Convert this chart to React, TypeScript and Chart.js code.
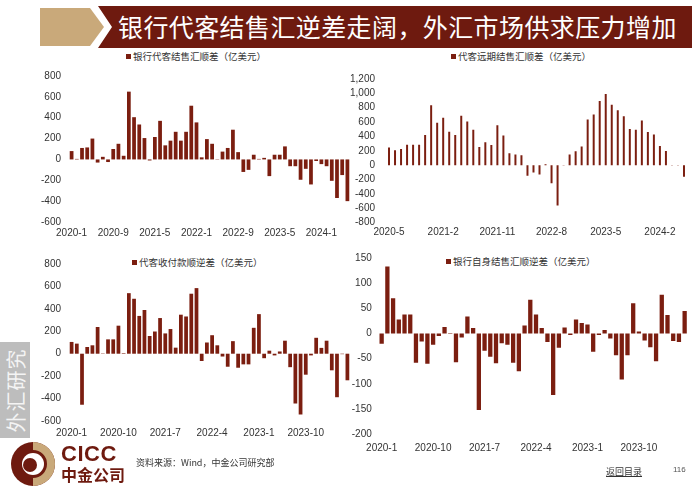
import React, { useEffect, useRef } from 'react';
import { Chart, registerables } from 'chart.js';

Chart.register(...registerables);

const BAR_COLOR = '#7B1E10';
const DARK_RED = '#6E1A0F';
const TAN = '#C9A97A';
const CJK = '"Noto Sans CJK SC", "Noto Sans", sans-serif';
const NUM = '"Liberation Sans", Arial, sans-serif';

function monthLabels(year: number, month: number, count: number): string[] {
  const out: string[] = [];
  let y = year;
  let m = month;
  for (let i = 0; i < count; i++) {
    out.push(`${y}-${m}`);
    m += 1;
    if (m > 12) { m = 1; y += 1; }
  }
  return out;
}

// Chart 1: 银行代客结售汇顺差 (2020-1 .. 2024-6)
const agentLabels = monthLabels(2020, 1, 54);
const agentSeries = '银行代客结售汇顺差（亿美元）';
const agentValues = [
  80, 5, 110, 115, 200, -30, 25, -25, 100, 150,
  35, 650, 405, 335, 205, -10, 215, 370, 135, 180,
  265, 180, 265, 515, 355, 20, 195, 150, 3, 75,
  110, 285, 70, -120, -100, 45, 5, 15, -160, 45,
  45, 125, -65, -65, -195, -90, -240, -15, -45, -65,
  -205, -370, -150, -400,
];

// Chart 2: 代客远期结售汇顺差 (2020-5 .. 2024-6)
const forwardLabels = monthLabels(2020, 5, 50);
const forwardSeries = '代客远期结售汇顺差（亿美元）';
const forwardValues = [
  245, 210, 225, 285, 285, 285, 420, 835, 590, 660,
  465, 420, 690, 610, 495, 255, 320, 280, 555, 415,
  165, 150, 140, -145, -100, -130, 12, -250, -560, -5,
  150, 195, 262, 638, 705, 895, 990, 842, 765, 682,
  505, 495, 622, 462, 426, 266, 197, -4, -4, -160,
];

// Chart 3: 代客收付款顺逆差 (2020-1 .. 2024-6)
const payLabels = monthLabels(2020, 1, 54);
const paySeries = '代客收付款顺逆差（亿美元）';
const payValues = [
  105, 90, -455, 60, 75, 238, 3, 128, 128, 250,
  5, 540, 490, 337, 390, 158, 198, 318, 181, 220,
  54, 348, 332, 535, 585, -65, 100, 165, 75, -25,
  -116, 112, -125, -95, -95, 231, 353, -40, 27, -15,
  20, 116, -120, -444, -542, -187, -15, 142, 52, 116,
  -148, -388, -4, -237,
];

// Chart 4: 银行自身结售汇顺逆差 (2020-1 .. 2024-6)
const bankLabels = monthLabels(2020, 1, 54);
const bankSeries = '银行自身结售汇顺逆差（亿美元）';
const bankValues = [
  -20, 133, 70, 28, 38, 38, -58, -16, -60, -22,
  -5, 13, 1, -57, -8, 34, 11, -152, -34, -46,
  -59, -19, -22, -58, -75, 16, 67, 38, 11, -17,
  -122, -28, 12, -3, 28, 21, 18, -36, -3, 7,
  -10, -43, -91, -43, 60, 4, -14, -27, -55, 77,
  37, -15, -17, 45,
];

type PanelProps = {
  left: number; top: number; width: number; height: number;
  labels: string[]; values: number[]; series: string;
  yMin: number; yMax: number; yStep: number; every: number; barPct: number;
  padTop: number; padRight: number; yW: number; xH: number; yPad: number; xPad: number;
};

function BarPanel(p: PanelProps) {
  const ref = useRef<HTMLCanvasElement>(null);
  useEffect(() => {
    if (!ref.current) return;
    const chart = new Chart(ref.current, {
      type: 'bar',
      data: {
        labels: p.labels,
        datasets: [{
          label: p.series,
          data: p.values,
          backgroundColor: BAR_COLOR,
          borderWidth: 0,
          categoryPercentage: 1,
          barPercentage: p.barPct,
        }],
      },
      options: {
        animation: false,
        responsive: false,
        maintainAspectRatio: false,
        layout: { padding: { top: p.padTop, right: p.padRight, left: 0, bottom: 0 } },
        plugins: { legend: { display: false }, tooltip: { enabled: false } },
        scales: {
          x: {
            grid: { display: false, drawTicks: false },
            border: { display: false },
            ticks: {
              autoSkip: false,
              maxRotation: 0,
              minRotation: 0,
              padding: p.xPad,
              color: '#333',
              font: { family: NUM, size: 10 },
              callback: function (this: any, v: any, i: number) {
                return i % p.every === 0 ? this.getLabelForValue(v) : '';
              },
            },
            afterFit: (s: any) => { s.height = p.xH; },
          },
          y: {
            min: p.yMin,
            max: p.yMax,
            grid: { display: false, drawTicks: false },
            border: { display: false },
            ticks: {
              stepSize: p.yStep,
              autoSkip: false,
              padding: p.yPad,
              color: '#333',
              font: { family: NUM, size: 10 },
            },
            afterFit: (s: any) => { s.width = p.yW; },
          },
        },
      },
    });
    return () => chart.destroy();
  }, []);
  return (
    <canvas
      ref={ref}
      width={p.width}
      height={p.height}
      style={{ position: 'absolute', left: p.left, top: p.top, width: p.width, height: p.height }}
    />
  );
}

function Legend({ left, top, text }: { left: number; top: number; text: string }) {
  return (
    <div style={{
      position: 'absolute', left, top, fontFamily: CJK, fontSize: 9.5, lineHeight: '14px',
      color: '#333', whiteSpace: 'nowrap', display: 'flex', alignItems: 'center',
    }}>
      <span style={{ display: 'inline-block', width: 5, height: 5, background: BAR_COLOR, marginRight: 2 }} />
      {text}
    </div>
  );
}

export default function App() {
  return (
    <div style={{
      position: 'absolute', left: 0, top: 0, width: 700, height: 490, background: '#fff', overflow: 'hidden',
    }}>
      <svg width={700} height={52} style={{ position: 'absolute', left: 0, top: 0 }}>
        <polygon points="40,8 90,8 104,27 90,46 40,46" fill={TAN} />
        <polygon points="98,6 692,6 692,48 98,48 112,27" fill={DARK_RED} />
      </svg>
      <div style={{
        position: 'absolute', left: 118, top: 9, height: 34, lineHeight: '34px',
        fontFamily: CJK, fontSize: 25, color: '#fff', letterSpacing: 0.4, whiteSpace: 'nowrap',
      }}>
        银行代客结售汇逆差走阔，外汇市场供求压力增加
      </div>

      <Legend left={126} top={49} text={agentSeries} />
      <Legend left={451} top={49} text={forwardSeries} />
      <Legend left={132} top={255} text={paySeries} />
      <Legend left={446} top={254} text={bankSeries} />

      <BarPanel left={20} top={62} width={335} height={185} labels={agentLabels} values={agentValues}
        series={agentSeries} yMin={-600} yMax={800} yStep={200} every={8} barPct={0.72}
        padTop={10.7} padRight={5} yW={49} xH={25} yPad={8} xPad={5} />
      <BarPanel left={350} top={62} width={345} height={185} labels={forwardLabels} values={forwardValues}
        series={forwardSeries} yMin={-800} yMax={1200} yStep={200} every={9} barPct={0.33}
        padTop={9.7} padRight={8} yW={36} xH={24.3} yPad={11} xPad={4} />
      <BarPanel left={20} top={250} width={335} height={195} labels={payLabels} values={payValues}
        series={paySeries} yMin={-600} yMax={800} yStep={200} every={9} barPct={0.72}
        padTop={13.3} padRight={5} yW={49} xH={24} yPad={8} xPad={6} />
      <BarPanel left={350} top={245} width={345} height={215} labels={bankLabels} values={bankValues}
        series={bankSeries} yMin={-200} yMax={150} yStep={50} every={9} barPct={0.75}
        padTop={10} padRight={7.5} yW={28.8} xH={25.7} yPad={7} xPad={8} />

      <div style={{
        position: 'absolute', left: 0, top: 342, width: 30, height: 96, background: '#BDBDBD',
        display: 'flex', alignItems: 'center', justifyContent: 'center', overflow: 'hidden',
      }}>
        <div style={{
          transform: 'rotate(-90deg)', whiteSpace: 'nowrap', fontFamily: CJK, fontSize: 20,
          color: '#F4F4F4', letterSpacing: 1,
        }}>外汇研究</div>
      </div>

      <svg width={50} height={50} style={{ position: 'absolute', left: 9, top: 440 }}>
        <circle cx={24} cy={24} r={22} fill={DARK_RED} />
        <path d="M24,2 A22,22 0 0,1 24,46 L24,38 A14,14 0 0,0 24,10 Z" fill={TAN} />
        <circle cx={24} cy={24} r={11} fill="#fff" />
        <circle cx={21} cy={25} r={7} fill={DARK_RED} />
      </svg>
      <div style={{
        position: 'absolute', left: 61, top: 443, fontFamily: NUM, fontWeight: 'bold', fontSize: 22,
        lineHeight: '22px', color: DARK_RED, letterSpacing: 0.5,
      }}>CICC</div>
      <div style={{
        position: 'absolute', left: 61, top: 465, fontFamily: CJK, fontWeight: 'bold', fontSize: 16,
        lineHeight: '18px', color: DARK_RED,
      }}>中金公司</div>
      <div style={{
        position: 'absolute', left: 136, top: 457, fontFamily: CJK, fontSize: 9, lineHeight: '12px', color: '#333',
      }}>资料来源：Wind，中金公司研究部</div>
      <div style={{
        position: 'absolute', left: 606, top: 466, fontFamily: CJK, fontSize: 9, lineHeight: '12px',
        color: '#333', textDecoration: 'underline',
      }}>返回目录</div>
      <div style={{
        position: 'absolute', left: 673, top: 464, fontFamily: NUM, fontSize: 8, lineHeight: '12px', color: '#555',
      }}>116</div>
    </div>
  );
}
